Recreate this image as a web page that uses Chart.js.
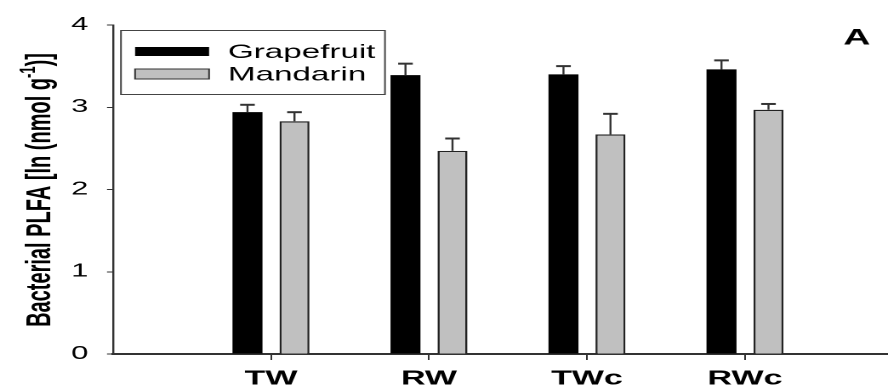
<!DOCTYPE html>
<html>
<head>
<meta charset="utf-8">
<script src="https://cdn.jsdelivr.net/npm/chart.js@4.4.1/dist/chart.umd.min.js"></script>
<style>
  html, body { margin: 0; padding: 0; background: #fff; overflow: hidden; }
  /* the figure is stretched sideways, so draw narrow and widen it */
  #wrap { width: 522px; height: 390px; transform: scaleX(1.7011); transform-origin: 0 0; }
</style>
</head>
<body>
<div id="wrap"><canvas id="chart" width="522" height="390"></canvas></div>
<script>
const categories = ["TW", "RW", "TWc", "RWc"];
const grapefruit = [2.94, 3.39, 3.40, 3.46];
const grapefruitErr = [0.09, 0.14, 0.10, 0.11];
const mandarin = [2.83, 2.47, 2.67, 2.97];
const mandarinErr = [0.11, 0.15, 0.25, 0.07];
const yTicks = [0, 1, 2, 3, 4];
const panelLabel = "A";

const S = 888 / 522;

Chart.defaults.font.family = '"Liberation Sans", Arial, sans-serif';
Chart.defaults.color = "#000";

const errorBars = {
  id: "errorBars",
  afterDatasetsDraw(chart) {
    const ctx = chart.ctx;
    const y = chart.scales.y;
    chart.data.datasets.forEach((ds, di) => {
      const meta = chart.getDatasetMeta(di);
      meta.data.forEach((bar, i) => {
        const top = y.getPixelForValue(ds.data[i].y + ds.errors[i]);
        ctx.save();
        ctx.strokeStyle = "#333";
        ctx.lineWidth = 1.2;
        ctx.beginPath();
        ctx.moveTo(bar.x, bar.y);
        ctx.lineTo(bar.x, top);
        ctx.stroke();
        ctx.lineWidth = 2;
        ctx.beginPath();
        ctx.moveTo(bar.x - 4.3, top);
        ctx.lineTo(bar.x + 4.3, top);
        ctx.stroke();
        ctx.restore();
      });
    });
  }
};

const extras = {
  id: "extras",
  afterDraw(chart) {
    const ctx = chart.ctx;
    ctx.save();

    // legend box
    ctx.strokeStyle = "#444";
    ctx.lineWidth = 1;
    ctx.strokeRect(71.1, 30.5, 155.2, 64);
    const rows = [51.5, 74];
    chart.data.datasets.forEach((ds, i) => {
      const yy = rows[i];
      ctx.fillStyle = ds.backgroundColor;
      if (i === 0) {
        ctx.fillRect(79.4, yy - 4.5, 43.5, 9);
      } else {
        ctx.fillRect(79.4, yy - 5, 43.5, 10);
        ctx.strokeStyle = "#333";
        ctx.lineWidth = 1;
        ctx.strokeRect(79.4, yy - 5, 43.5, 10);
      }
      ctx.fillStyle = "#000";
      ctx.font = '19.5px "Liberation Sans", Arial, sans-serif';
      ctx.textAlign = "left";
      ctx.textBaseline = "middle";
      ctx.fillText(ds.label, 134, yy + 1);
    });

    // panel letter
    ctx.font = 'bold 22px "Liberation Sans", Arial, sans-serif';
    ctx.textAlign = "center";
    ctx.textBaseline = "middle";
    ctx.fillText(panelLabel, 503.7, 38.5);

    // y axis title with superscript
    ctx.translate(50 / S, 190);
    ctx.rotate(-Math.PI / 2);
    const big = 'bold 20px "Liberation Sans", Arial, sans-serif';
    const small = 'bold 13px "Liberation Sans", Arial, sans-serif';
    const parts = [
      ["Bacterial PLFA [ln (nmol g", big, 0],
      ["-1", small, -9],
      [")]", big, 0]
    ];
    let total = 0;
    parts.forEach(p => { ctx.font = p[1]; total += ctx.measureText(p[0]).width; });
    let x = -total / 2;
    ctx.textAlign = "left";
    ctx.textBaseline = "alphabetic";
    parts.forEach(p => {
      ctx.font = p[1];
      ctx.fillText(p[0], x, p[2]);
      x += ctx.measureText(p[0]).width;
    });
    ctx.restore();
  }
};

new Chart(document.getElementById("chart"), {
  type: "bar",
  data: {
    datasets: [
      {
        label: "Grapefruit",
        data: grapefruit.map((v, i) => ({ x: i + 1, y: v })),
        errors: grapefruitErr,
        backgroundColor: "#000000",
        borderWidth: 0
      },
      {
        label: "Mandarin",
        data: mandarin.map((v, i) => ({ x: i + 1, y: v })),
        errors: mandarinErr,
        backgroundColor: "#c0c0c0",
        borderColor: "#222",
        borderWidth: 1.3
      }
    ]
  },
  options: {
    responsive: false,
    animation: false,
    devicePixelRatio: 2,
    categoryPercentage: 0.595,
    barPercentage: 0.638,
    layout: { padding: { top: 25, left: 0, right: 0, bottom: 0 } },
    plugins: { legend: { display: false }, tooltip: { enabled: false } },
    scales: {
      x: {
        type: "linear",
        min: 0,
        max: 4.905,
        offset: false,
        afterBuildTicks: (axis) => {
          axis.ticks = categories.map((c, i) => ({ value: i + 1 }));
        },
        afterFit: (axis) => { axis.height = 36; },
        grid: { offset: false, drawOnChartArea: false, tickLength: 6, color: "#333", lineWidth: 1 },
        border: { color: "#333", width: 2 },
        ticks: {
          autoSkip: false,
          maxRotation: 0,
          padding: 7,
          font: { size: 20, weight: "bold" },
          callback: (v) => categories[v - 1] || ""
        }
      },
      y: {
        min: 0,
        max: 4,
        afterBuildTicks: (axis) => {
          axis.ticks = yTicks.map(v => ({ value: v }));
        },
        afterFit: (axis) => { axis.width = 66.4; },
        grid: { drawOnChartArea: false, tickLength: 3.5, color: "#333", lineWidth: 1 },
        border: { color: "#333", width: 1.2 },
        ticks: { padding: 11, font: { size: 18 } }
      }
    }
  },
  plugins: [errorBars, extras]
});
</script>
</body>
</html>
